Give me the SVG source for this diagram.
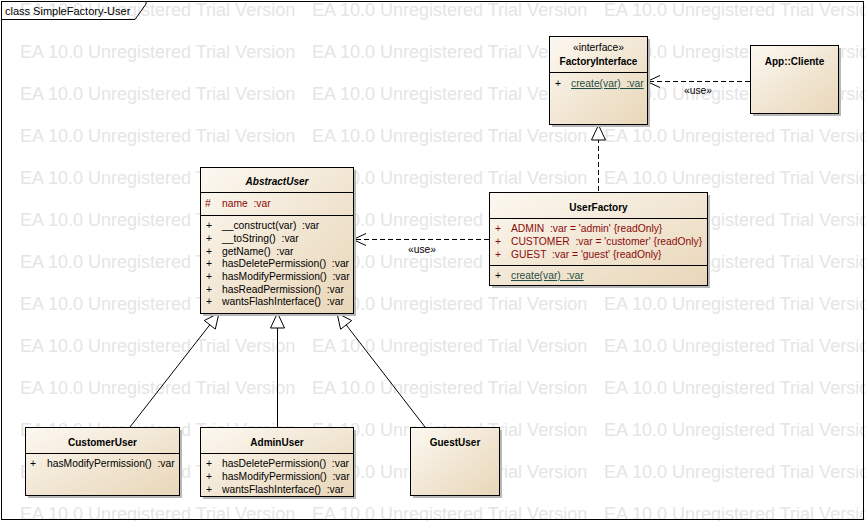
<svg xmlns="http://www.w3.org/2000/svg" width="865" height="521" viewBox="0 0 865 521">
<defs>
<linearGradient id="fill" x1="0" y1="0" x2="1" y2="1">
<stop offset="0" stop-color="#fcf8f1"/>
<stop offset="1" stop-color="#e8d6b8"/>
</linearGradient>
<marker id="open" viewBox="0 0 14 14" refX="13" refY="7" markerWidth="14" markerHeight="14" markerUnits="userSpaceOnUse" orient="auto">
<polyline points="0,1 13,7 0,13" fill="none" stroke="#000" stroke-width="1"/>
</marker>
</defs>
<style>
text{font-family:"Liberation Sans",Arial,sans-serif;font-size:10.3px;fill:#000;white-space:pre}
.wm{font-size:18px;fill:#e5e5e5}
.box{fill:url(#fill);stroke:#000;stroke-width:1}
.sh{fill:#b8b8b8}
.div{stroke:#000;stroke-width:1}
.name{font-weight:bold;text-anchor:middle;font-size:10px}
.it{font-style:italic}
.attr{fill:#8b0a0a}
.st{fill:#1f4f45;text-decoration:underline}
.dash{fill:none;stroke:#000;stroke-width:1;stroke-dasharray:5,3}
.solid{fill:none;stroke:#000;stroke-width:1}
.tri{fill:#fff;stroke:#000;stroke-width:1}
.lbl{text-anchor:middle}
</style>
<rect x="0" y="0" width="865" height="521" fill="#fff"/>
<g id="watermark">
<text class="wm" x="20" y="16">EA 10.0 Unregistered Trial Version</text><text class="wm" x="312" y="16">EA 10.0 Unregistered Trial Version</text><text class="wm" x="604" y="16">EA 10.0 Unregistered Trial Version</text>
<text class="wm" x="20" y="58">EA 10.0 Unregistered Trial Version</text><text class="wm" x="312" y="58">EA 10.0 Unregistered Trial Version</text><text class="wm" x="604" y="58">EA 10.0 Unregistered Trial Version</text>
<text class="wm" x="20" y="100">EA 10.0 Unregistered Trial Version</text><text class="wm" x="312" y="100">EA 10.0 Unregistered Trial Version</text><text class="wm" x="604" y="100">EA 10.0 Unregistered Trial Version</text>
<text class="wm" x="20" y="142">EA 10.0 Unregistered Trial Version</text><text class="wm" x="312" y="142">EA 10.0 Unregistered Trial Version</text><text class="wm" x="604" y="142">EA 10.0 Unregistered Trial Version</text>
<text class="wm" x="20" y="184">EA 10.0 Unregistered Trial Version</text><text class="wm" x="312" y="184">EA 10.0 Unregistered Trial Version</text><text class="wm" x="604" y="184">EA 10.0 Unregistered Trial Version</text>
<text class="wm" x="20" y="226">EA 10.0 Unregistered Trial Version</text><text class="wm" x="312" y="226">EA 10.0 Unregistered Trial Version</text><text class="wm" x="604" y="226">EA 10.0 Unregistered Trial Version</text>
<text class="wm" x="20" y="268">EA 10.0 Unregistered Trial Version</text><text class="wm" x="312" y="268">EA 10.0 Unregistered Trial Version</text><text class="wm" x="604" y="268">EA 10.0 Unregistered Trial Version</text>
<text class="wm" x="20" y="310">EA 10.0 Unregistered Trial Version</text><text class="wm" x="312" y="310">EA 10.0 Unregistered Trial Version</text><text class="wm" x="604" y="310">EA 10.0 Unregistered Trial Version</text>
<text class="wm" x="20" y="352">EA 10.0 Unregistered Trial Version</text><text class="wm" x="312" y="352">EA 10.0 Unregistered Trial Version</text><text class="wm" x="604" y="352">EA 10.0 Unregistered Trial Version</text>
<text class="wm" x="20" y="394">EA 10.0 Unregistered Trial Version</text><text class="wm" x="312" y="394">EA 10.0 Unregistered Trial Version</text><text class="wm" x="604" y="394">EA 10.0 Unregistered Trial Version</text>
<text class="wm" x="20" y="436">EA 10.0 Unregistered Trial Version</text><text class="wm" x="312" y="436">EA 10.0 Unregistered Trial Version</text><text class="wm" x="604" y="436">EA 10.0 Unregistered Trial Version</text>
<text class="wm" x="20" y="478">EA 10.0 Unregistered Trial Version</text><text class="wm" x="312" y="478">EA 10.0 Unregistered Trial Version</text><text class="wm" x="604" y="478">EA 10.0 Unregistered Trial Version</text>
<text class="wm" x="20" y="520">EA 10.0 Unregistered Trial Version</text><text class="wm" x="312" y="520">EA 10.0 Unregistered Trial Version</text><text class="wm" x="604" y="520">EA 10.0 Unregistered Trial Version</text>
</g>
<g id="frame">
<rect x="1.5" y="1.5" width="862" height="518" fill="none" stroke="#000" stroke-width="1"/>
<path d="M1.5 19.5 H135 L146 4 V1.5" fill="none" stroke="#000" stroke-width="1"/>
<text x="5" y="15" style="font-size:11px">class SimpleFactory-User</text>
</g>
<g id="connectors">
<line class="dash" x1="750" y1="81.5" x2="647" y2="81.5" marker-end="url(#open)"/>
<text class="lbl" x="698" y="94">«use»</text>
<line class="dash" x1="489" y1="239.5" x2="353" y2="239.5" marker-end="url(#open)"/>
<text class="lbl" x="422" y="253">«use»</text>
<line class="dash" x1="598.5" y1="191" x2="598.5" y2="140"/>
<polygon class="tri" points="598.5,125 591.5,140 605.5,140"/>
<line class="solid" x1="130" y1="427" x2="209.8" y2="324.8"/>
<polygon class="tri" points="219,313 215.3,329.1 204.3,320.5"/>
<line class="solid" x1="277.5" y1="427" x2="277.5" y2="328"/>
<polygon class="tri" points="277.5,313 270.5,328 284.5,328"/>
<line class="solid" x1="425" y1="427" x2="346.2" y2="324.9"/>
<polygon class="tri" points="337,313 351.7,320.6 340.6,329.2"/>
</g>
<g id="FactoryInterface">
<rect class="sh" x="552" y="39" width="98" height="88"/>
<rect class="box" x="549.5" y="36.5" width="98" height="88"/>
<text class="lbl" x="598.5" y="51">«interface»</text>
<text class="name" x="598.5" y="65">FactoryInterface</text>
<line class="div" x1="549.5" y1="72.5" x2="647.5" y2="72.5"/>
<text x="555" y="87">+</text>
<text class="st" x="571" y="87">create(var)  :var</text>
</g>
<g id="AppCliente">
<rect class="sh" x="753" y="48" width="88" height="68"/>
<rect class="box" x="750.5" y="45.5" width="88" height="68"/>
<text class="name" x="794.5" y="65">App::Cliente</text>
</g>
<g id="AbstractUser">
<rect class="sh" x="203" y="170" width="153" height="146"/>
<rect class="box" x="200.5" y="167.5" width="153" height="146"/>
<text class="name it" x="277" y="185">AbstractUser</text>
<line class="div" x1="200.5" y1="192.5" x2="353.5" y2="192.5"/>
<text class="attr" x="205" y="207">#</text>
<text class="attr" x="222" y="207">name  :var</text>
<line class="div" x1="200.5" y1="215.5" x2="353.5" y2="215.5"/>
<text x="206" y="229">+</text><text x="222" y="229">__construct(var)  :var</text>
<text x="206" y="242">+</text><text x="222" y="242">__toString()  :var</text>
<text x="206" y="254.5">+</text><text x="222" y="254.5">getName()  :var</text>
<text x="206" y="267">+</text><text x="222" y="267">hasDeletePermission()  :var</text>
<text x="206" y="280">+</text><text x="222" y="280">hasModifyPermission()  :var</text>
<text x="206" y="292.5">+</text><text x="222" y="292.5">hasReadPermission()  :var</text>
<text x="206" y="305">+</text><text x="222" y="305">wantsFlashInterface()  :var</text>
</g>
<g id="UserFactory">
<rect class="sh" x="492" y="195" width="218" height="93"/>
<rect class="box" x="489.5" y="192.5" width="218" height="93"/>
<text class="name" x="598.5" y="211">UserFactory</text>
<line class="div" x1="489.5" y1="218.5" x2="707.5" y2="218.5"/>
<text class="attr" x="495" y="232">+</text><text class="attr" x="511" y="232">ADMIN  :var = 'admin' {readOnly}</text>
<text class="attr" x="495" y="245">+</text><text class="attr" x="511" y="245">CUSTOMER  :var = 'customer' {readOnly}</text>
<text class="attr" x="495" y="258">+</text><text class="attr" x="511" y="258">GUEST  :var = 'guest' {readOnly}</text>
<line class="div" x1="489.5" y1="265.5" x2="707.5" y2="265.5"/>
<text x="495" y="279">+</text><text class="st" x="511" y="279">create(var)  :var</text>
</g>
<g id="CustomerUser">
<rect class="sh" x="28" y="430" width="154" height="68"/>
<rect class="box" x="25.5" y="427.5" width="154" height="68"/>
<text class="name" x="102.5" y="446">CustomerUser</text>
<line class="div" x1="25.5" y1="453.5" x2="179.5" y2="453.5"/>
<text x="30" y="467">+</text><text x="47" y="467">hasModifyPermission()  :var</text>
</g>
<g id="AdminUser">
<rect class="sh" x="203" y="430" width="153" height="69"/>
<rect class="box" x="200.5" y="427.5" width="153" height="69"/>
<text class="name" x="277" y="446">AdminUser</text>
<line class="div" x1="200.5" y1="453.5" x2="353.5" y2="453.5"/>
<text x="206" y="467">+</text><text x="222" y="467">hasDeletePermission()  :var</text>
<text x="206" y="480">+</text><text x="222" y="480">hasModifyPermission()  :var</text>
<text x="206" y="493">+</text><text x="222" y="493">wantsFlashInterface()  :var</text>
</g>
<g id="GuestUser">
<rect class="sh" x="413" y="430" width="89" height="68"/>
<rect class="box" x="410.5" y="427.5" width="89" height="68"/>
<text class="name" x="455" y="446">GuestUser</text>
</g>
</svg>
